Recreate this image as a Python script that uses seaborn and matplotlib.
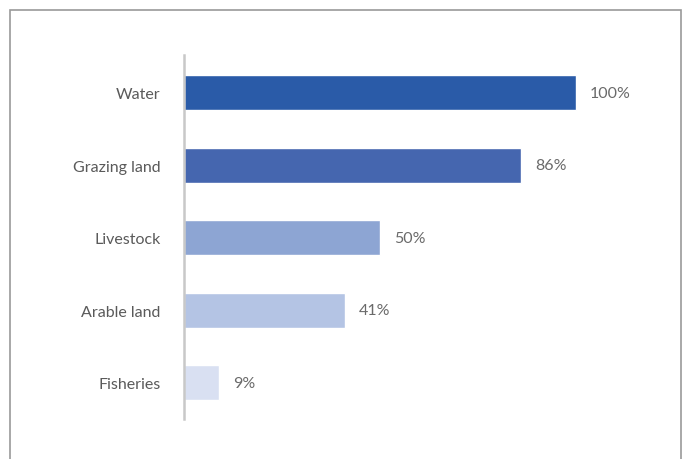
import matplotlib
matplotlib.use("Agg")
import matplotlib.pyplot as plt
import seaborn as sns
import pandas as pd
from matplotlib.patches import Rectangle

categories = ["Water", "Grazing land", "Livestock", "Arable land", "Fisheries"]
values = [100, 86, 50, 41, 9]
labels = ["100%", "86%", "50%", "41%", "9%"]
colors = ["#2a5ba8", "#4566af", "#8da5d3", "#b4c4e4", "#d9e0f2"]

sns.set_theme(style="white")
plt.rcParams['font.family'] = ['Lato', 'DejaVu Sans']

df = pd.DataFrame({"cat": categories, "val": values})

fig = plt.figure(figsize=(6.84, 4.6), dpi=100)
ax = fig.add_axes([184/684, 40/460, (680-184)/684, 364/460])
sns.barplot(data=df, y="cat", x="val", hue="cat", palette=colors, orient="h",
            width=0.48, ax=ax, legend=False, saturation=1)

ax.set_xlim(0, 100*(680-184)/392)
ax.set_ylim(4.5, -0.52)
ax.set_xlabel("")
ax.set_ylabel("")
ax.set_xticks([])
for s in ["top", "right", "bottom"]:
    ax.spines[s].set_visible(False)
ax.spines["left"].set_color("#c8c8c8")
ax.spines["left"].set_linewidth(1.8)
ax.tick_params(axis="y", length=0, pad=17, labelsize=11.5, labelcolor="#5a5a5a")

for i, (v, t) in enumerate(zip(values, labels)):
    ax.text(v + 3.5, i, t, va="center", ha="left", fontsize=11.5,
            color="#6a6a6a")

fig.patches.append(Rectangle((10/684, -0.1), (681-10)/684, (460-11)/460 + 0.1,
                             transform=fig.transFigure, fill=False,
                             edgecolor="#9a9a9a", linewidth=1.2))

fig.savefig("out.png", dpi=100)
